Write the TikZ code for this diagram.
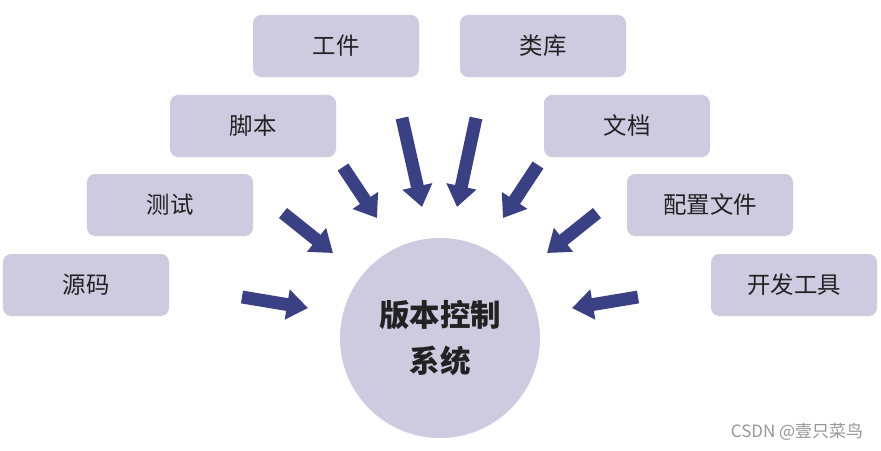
\documentclass[tikz,border=0pt]{standalone}
\usepackage{fontspec}
\usepackage{xcolor}
\usepackage{tikz}
\usetikzlibrary{arrows.meta}
\newfontfamily\cjk{Noto Sans CJK SC}
\definecolor{boxfill}{RGB}{206,202,224}
\definecolor{arrowblue}{RGB}{58,64,132}
\definecolor{inkgray}{RGB}{34,34,34}
\definecolor{markgray}{RGB}{150,150,150}

\begin{document}
\begin{tikzpicture}[x=0.03cm,y=-0.03cm]
\tikzstyle{item}=[rectangle,rounded corners=7pt,fill=boxfill,text=inkgray,minimum width=4.98cm,minimum height=1.86cm,font=\cjk\fontsize{20}{24}\selectfont]
\tikzstyle{fat}=[draw=arrowblue,line width=11pt,-{Triangle[width=25pt,length=18pt]},arrowblue]
\useasboundingbox[fill=white] (0,0) rectangle (881,450);
\node[item] (gj) at (336,46) {工件};
\node[item] (jb) at (253,126) {脚本};
\node[item] (cs) at (170,205) {测试};
\node[item] (ym) at (86,285) {源码};
\node[item] (lk) at (543,46) {类库};
\node[item] (wd) at (627,126) {文档};
\node[item] (pz) at (710,205) {配置文件};
\node[item] (kf) at (794,285) {开发工具};
\node[circle,fill=boxfill,text=inkgray,minimum size=6cm,align=center,font=\cjk\bfseries\fontsize{26}{40}\selectfont] (vcs) at (440,338) {版本控制\\系统};
\coordinate (a1) at (242,297); \coordinate (b1) at (308,308);
\coordinate (a2) at (283,213); \coordinate (b2) at (333,253);
\coordinate (a3) at (343,167); \coordinate (b3) at (377,218);
\coordinate (a4) at (402,118); \coordinate (b4) at (422,207);
\coordinate (a5) at (476,118); \coordinate (b5) at (457,207);
\coordinate (a6) at (538,165); \coordinate (b6) at (503,218);
\coordinate (a7) at (597,213); \coordinate (b7) at (547,253);
\coordinate (a8) at (638,297); \coordinate (b8) at (572,308);
\draw[fat] (a1)--(b1);
\draw[fat] (a2)--(b2);
\draw[fat] (a3)--(b3);
\draw[fat] (a4)--(b4);
\draw[fat] (a5)--(b5);
\draw[fat] (a6)--(b6);
\draw[fat] (a7)--(b7);
\draw[fat] (a8)--(b8);
\node[text=markgray,font=\cjk\fontsize{14.5}{16}\selectfont] (mark) at (797,432) {CSDN @壹只菜鸟};
\end{tikzpicture}
\end{document}
